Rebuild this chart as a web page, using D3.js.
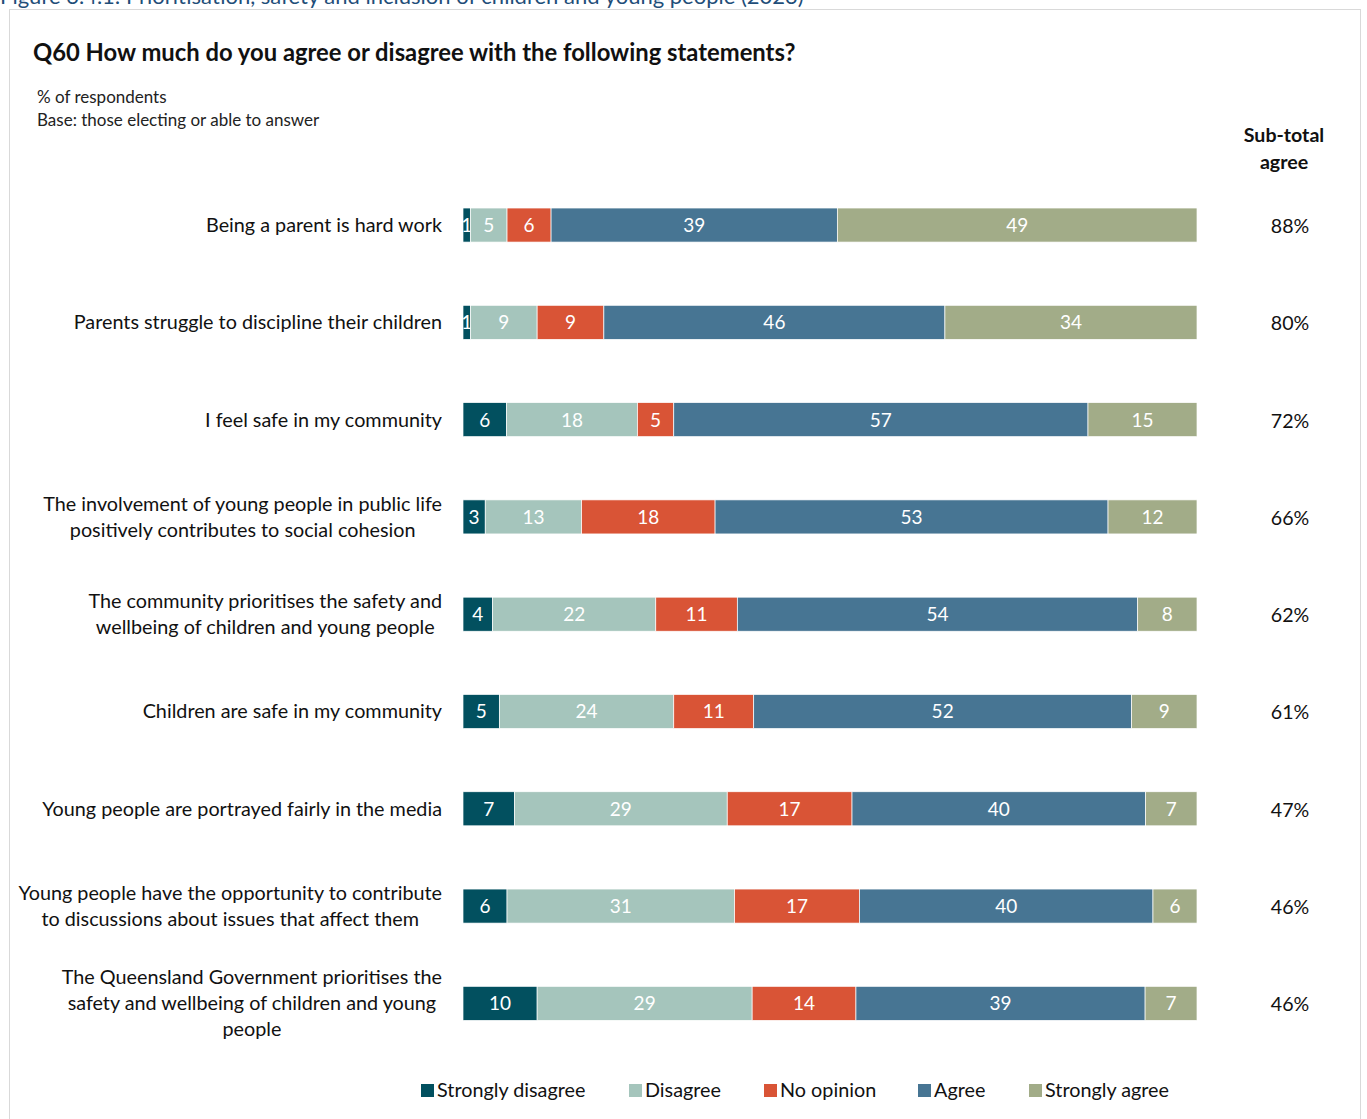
<!DOCTYPE html>
<html><head><meta charset="utf-8">
<script src="https://cdn.jsdelivr.net/npm/d3@7"></script>
<style>
body{margin:0;background:#fff;}
svg{display:block;font-family:Lato, "Open Sans", sans-serif;}
</style></head>
<body>
<script>
const categories = [
  ["Being a parent is hard work"],
  ["Parents struggle to discipline their children"],
  ["I feel safe in my community"],
  ["The involvement of young people in public life","positively contributes to social cohesion"],
  ["The community prioritises the safety and","wellbeing of children and young people"],
  ["Children are safe in my community"],
  ["Young people are portrayed fairly in the media"],
  ["Young people have the opportunity to contribute","to discussions about issues that affect them"],
  ["The Queensland Government prioritises the","safety and wellbeing of children and young","people"]
];
const seriesNames = ["Strongly disagree","Disagree","No opinion","Agree","Strongly agree"];
const stronglyDisagree = [1,1,6,3,4,5,7,6,10];
const disagree         = [5,9,18,13,22,24,29,31,29];
const noOpinion        = [6,9,5,18,11,11,17,17,14];
const agree            = [39,46,57,53,54,52,40,40,39];
const stronglyAgree    = [49,34,15,12,8,9,7,6,7];
const subtotalAgree    = ["88%","80%","72%","66%","62%","61%","47%","46%","46%"];
const colors = ["#02505f","#a5c5bc","#d95436","#477593","#a2ac88"];

const W=1367,H=1119;
const svg=d3.select("body").append("svg").attr("width",W).attr("height",H);

// frame and caption
svg.append("rect").attr("x",9.5).attr("y",9.5).attr("width",1351).attr("height",1130)
  .attr("fill","none").attr("stroke","#d9d9d9").attr("stroke-width",1);
svg.append("text").attr("x",0).attr("y",4).attr("fill","#1f4e79").attr("font-size",22)
  .text("Figure 3.4.1: Prioritisation, safety and inclusion of children and young people (2023)");

svg.append("text").attr("x",33).attr("y",61).attr("font-size",23.8).attr("font-weight","bold")
  .attr("fill","#111").text("Q60 How much do you agree or disagree with the following statements?");
svg.append("text").attr("x",37).attr("y",103).attr("font-size",17).attr("fill","#222").text("% of respondents");
svg.append("text").attr("x",37).attr("y",126).attr("font-size",17).attr("fill","#222").text("Base: those electing or able to answer");

const hdr=svg.append("text").attr("text-anchor","middle").attr("font-size",19.6).attr("font-weight","bold").attr("fill","#111");
hdr.append("tspan").attr("x",1284).attr("y",142).text("Sub-total");
hdr.append("tspan").attr("x",1284).attr("y",169).text("agree");

const data=categories.map((c,i)=>({
  i, "Strongly disagree":stronglyDisagree[i], "Disagree":disagree[i], "No opinion":noOpinion[i],
  "Agree":agree[i], "Strongly agree":stronglyAgree[i]
}));
const stack=d3.stack().keys(seriesNames).offset(d3.stackOffsetExpand);
const series=stack(data);

const x=d3.scaleLinear().domain([0,1]).range([463,1197]);
const y=d3.scaleBand().domain(d3.range(categories.length)).range([176.4,1052]).paddingInner(0.65).paddingOuter(0.325);

const g=svg.append("g");
series.forEach((s,si)=>{
  const sg=g.append("g");
  sg.selectAll("rect").data(s).join("rect")
    .attr("x",d=>x(d[0])).attr("width",d=>x(d[1])-x(d[0]))
    .attr("y",(d,i)=>y(i)).attr("height",y.bandwidth())
    .attr("fill",colors[si]).attr("stroke","#fff").attr("stroke-width",0.7);
  sg.selectAll("text").data(s).join("text")
    .attr("x",d=>(x(d[0])+x(d[1]))/2).attr("y",(d,i)=>y(i)+y.bandwidth()/2+7)
    .attr("text-anchor","middle").attr("font-size",19).attr("fill","#fff")
    .text(d=>d.data[seriesNames[si]]);
});

// category labels
categories.forEach((lines,i)=>{
  const cy=y(i)+y.bandwidth()/2;
  const t=svg.append("text").attr("font-size",19.8).attr("fill","#111").attr("text-anchor","middle");
  const lh=26;
  const y0=cy-(lines.length-1)*lh/2+7;
  const spans=lines.map((l,k)=>t.append("tspan").attr("y",y0+k*lh).text(l));
  const maxW=d3.max(spans,s=>s.node().getComputedTextLength());
  spans.forEach(s=>s.attr("x",442-maxW/2));
});

// subtotals
svg.selectAll("text.sub").data(subtotalAgree).join("text").attr("class","sub")
  .attr("x",1290).attr("y",(d,i)=>y(i)+y.bandwidth()/2+8).attr("text-anchor","middle")
  .attr("font-size",19.6).attr("fill","#111").text(d=>d);

// legend
const legX=[421,629,764,918,1029];
const lg=svg.append("g");
seriesNames.forEach((n,k)=>{
  lg.append("rect").attr("x",legX[k]).attr("y",1084).attr("width",13).attr("height",13).attr("fill",colors[k]);
  lg.append("text").attr("x",legX[k]+16).attr("y",1097).attr("font-size",19.8).attr("fill","#111").text(n);
});
</script>
</body></html>
